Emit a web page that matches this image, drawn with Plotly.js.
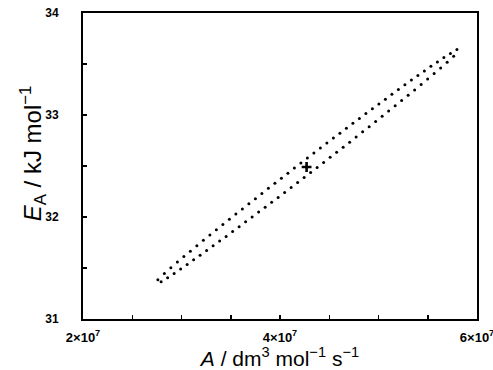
<!DOCTYPE html>
<html>
<head>
<meta charset="utf-8">
<script src="https://cdn.plot.ly/plotly-3.0.1.min.js"></script>
<style>
html,body{margin:0;padding:0;background:#fff;}
#chart{width:493px;height:370px;}
</style>
</head>
<body>
<div id="chart"></div>
<script>
// A values in units of 1e7 dm3 mol-1 s-1, EA in kJ/mol
var upperA = [2.760,2.826,2.892,2.958,3.024,3.090,3.156,3.222,3.288,3.354,3.420,3.486,3.552,3.618,3.684,3.750,3.816,3.882,3.948,4.014,4.080,4.146,4.212,4.278,4.344,4.410,4.476,4.542,4.608,4.674,4.740,4.806,4.872,4.938,5.004,5.070,5.136,5.202,5.268,5.334,5.400,5.466,5.532,5.598,5.664,5.730,5.796];
var upperE = [31.386,31.446,31.502,31.558,31.612,31.665,31.718,31.771,31.823,31.875,31.927,31.978,32.029,32.079,32.130,32.180,32.230,32.281,32.331,32.381,32.430,32.480,32.529,32.578,32.627,32.676,32.725,32.774,32.822,32.870,32.918,32.966,33.014,33.061,33.108,33.155,33.203,33.250,33.296,33.342,33.387,33.432,33.477,33.520,33.563,33.604,33.641];
var lowerA = [2.793,2.859,2.925,2.991,3.057,3.123,3.189,3.255,3.321,3.387,3.453,3.519,3.585,3.651,3.717,3.783,3.849,3.915,3.981,4.047,4.113,4.179,4.245,4.311,4.377,4.443,4.509,4.575,4.641,4.707,4.773,4.839,4.905,4.971,5.037,5.103,5.169,5.235,5.301,5.367,5.433,5.499,5.565,5.631,5.697,5.763];
var lowerE = [31.364,31.404,31.447,31.491,31.535,31.580,31.625,31.671,31.717,31.764,31.810,31.858,31.905,31.953,32.000,32.048,32.096,32.144,32.192,32.241,32.289,32.339,32.388,32.437,32.486,32.535,32.585,32.635,32.684,32.734,32.784,32.836,32.886,32.937,32.988,33.039,33.090,33.142,33.194,33.246,33.300,33.353,33.407,33.462,33.518,33.576];
var bestA = [4.27];
var bestE = [32.49];
var xTickVals = [2, 4, 6];
var xTickText = ['<b>2×10<sup>7</sup></b>', '<b>4×10<sup>7</sup></b>', '<b>6×10<sup>7</sup></b>'];
var yTickVals = [31, 32, 33, 34];
var yTickText = ['<b>31</b>', '<b>32</b>', '<b>33</b>', '<b>34</b>'];
var xTitle = '<i>A</i> / dm<sup>3</sup> mol<sup>−1</sup> s<sup>−1</sup>';
var yTitle = '<i>E</i><sub>A</sub> / kJ mol<sup>−1</sup>';

var dotMarker = {color: '#000', size: 3, symbol: 'circle', line: {width: 0}};
var traces = [
  {x: upperA, y: upperE, mode: 'markers', type: 'scatter', marker: dotMarker, hoverinfo: 'skip'},
  {x: lowerA, y: lowerE, mode: 'markers', type: 'scatter', marker: dotMarker, hoverinfo: 'skip'},
  {x: bestA, y: bestE, mode: 'markers', type: 'scatter',
   marker: {color: '#000', size: 7, symbol: 'cross-thin', line: {color: '#000', width: 2.6}}, hoverinfo: 'skip'}
];

var xTickFont = {family: 'Liberation Sans, Arial, sans-serif', size: 13, color: '#000'};
var yTickFont = {family: 'Liberation Sans, Arial, sans-serif', size: 12, color: '#000'};
var xTitleFont = {family: 'Liberation Sans, Arial, sans-serif', size: 21, color: '#000'};
var yTitleFont = {family: 'Liberation Sans, Arial, sans-serif', size: 24, color: '#000'};

var layout = {
  width: 493, height: 370,
  margin: {l: 83, r: 16, t: 13, b: 51},
  paper_bgcolor: '#fff', plot_bgcolor: '#fff',
  showlegend: false,
  xaxis: {
    range: [2, 6], showgrid: false, zeroline: false,
    showline: true, linecolor: '#000', linewidth: 2, mirror: true,
    ticks: 'inside', ticklen: 4, tickwidth: 1.5, tickcolor: '#000',
    tickvals: xTickVals, ticktext: xTickText, tickfont: xTickFont,
    ticklabelstandoff: 5, ticklabeloverflow: 'allow',
    minor: {ticks: 'inside', dtick: 0.5, ticklen: 4, tickwidth: 1.5, tickcolor: '#000', showgrid: false},
    title: {text: xTitle, font: xTitleFont, standoff: 2}
  },
  yaxis: {
    range: [31, 34], showgrid: false, zeroline: false,
    showline: true, linecolor: '#000', linewidth: 2, mirror: true,
    ticks: 'inside', ticklen: 4, tickwidth: 1.5, tickcolor: '#000',
    tickvals: yTickVals, ticktext: yTickText, tickfont: yTickFont,
    ticklabelstandoff: 20,
    minor: {ticks: 'inside', dtick: 0.5, ticklen: 4, tickwidth: 1.5, tickcolor: '#000', showgrid: false}
  },
  annotations: [{
    text: yTitle, font: yTitleFont, textangle: -90, showarrow: false,
    xref: 'paper', yref: 'paper', x: -0.128, y: 0.54, xanchor: 'center', yanchor: 'middle'
  }]
};

Plotly.newPlot('chart', traces, layout, {staticPlot: true, displayModeBar: false});
</script>
</body>
</html>
